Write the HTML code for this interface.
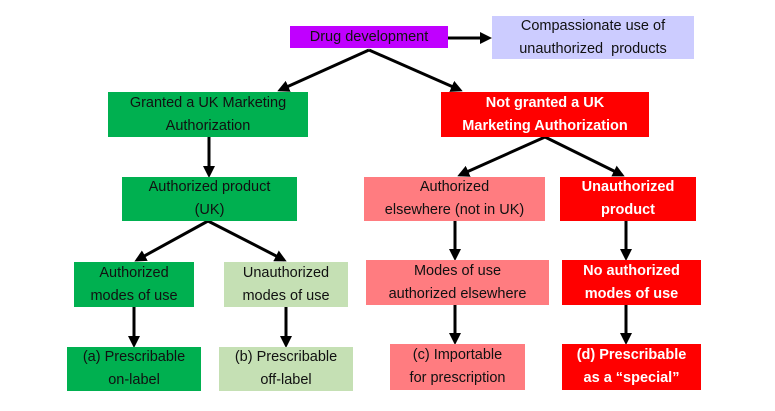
<!DOCTYPE html>
<html><head><style>
body{margin:0;width:775px;height:411px;background:#fff;position:relative;overflow:hidden;font-family:"Liberation Sans",sans-serif}
.b{position:absolute;display:flex;align-items:center;justify-content:center;text-align:center;font-size:14.5px;line-height:23px;color:#111;box-sizing:border-box}
.g{background:#00b050}.lg{background:#c5e0b4}.r{background:#ff0000;color:#fff;font-weight:bold}.p{background:#ff7c80}
svg{position:absolute;left:0;top:0}
</style></head><body>
<svg width="775" height="411"><defs><marker id="a" markerWidth="12" markerHeight="12" refX="9" refY="6" orient="auto" markerUnits="userSpaceOnUse"><path d="M0,0 L12,6 L0,12 z" fill="#000"/></marker></defs>
<g stroke="#000" stroke-width="3" fill="none" marker-end="url(#a)">
<line x1="448" y1="38" x2="489" y2="38"/>
<line x1="369" y1="50" x2="280" y2="90"/>
<line x1="369" y1="50" x2="460" y2="90"/>
<line x1="209" y1="137" x2="209" y2="175"/>
<line x1="545" y1="137" x2="460" y2="175"/>
<line x1="545" y1="137" x2="622" y2="175"/>
<line x1="208" y1="221" x2="137" y2="260"/>
<line x1="208" y1="221" x2="284" y2="260"/>
<line x1="455" y1="221" x2="455" y2="258"/>
<line x1="626" y1="221" x2="626" y2="258"/>
<line x1="134" y1="307" x2="134" y2="345"/>
<line x1="286" y1="307" x2="286" y2="345"/>
<line x1="455" y1="305" x2="455" y2="342"/>
<line x1="626" y1="305" x2="626" y2="342"/>
</g></svg>
<div class="b" style="left:290px;top:26px;width:158px;height:22px;background:#c000ff">Drug development</div>
<div class="b" style="left:492px;top:16px;width:202px;height:43px;background:#ccccff">Compassionate use of<br>unauthorized&nbsp; products</div>
<div class="b g" style="left:108px;top:92px;width:200px;height:45px">Granted a UK Marketing<br>Authorization</div>
<div class="b r" style="left:441px;top:92px;width:208px;height:45px">Not granted a UK<br>Marketing Authorization</div>
<div class="b g" style="left:122px;top:177px;width:175px;height:44px">Authorized product<br>(UK)</div>
<div class="b p" style="left:364px;top:177px;width:181px;height:44px">Authorized<br>elsewhere (not in UK)</div>
<div class="b r" style="left:560px;top:177px;width:136px;height:44px">Unauthorized<br>product</div>
<div class="b g" style="left:74px;top:262px;width:120px;height:45px">Authorized<br>modes of use</div>
<div class="b lg" style="left:224px;top:262px;width:124px;height:45px">Unauthorized<br>modes of use</div>
<div class="b p" style="left:366px;top:260px;width:183px;height:45px">Modes of use<br>authorized elsewhere</div>
<div class="b r" style="left:562px;top:260px;width:139px;height:45px">No authorized<br>modes of use</div>
<div class="b g" style="left:67px;top:347px;width:134px;height:44px">(a) Prescribable<br>on-label</div>
<div class="b lg" style="left:219px;top:347px;width:134px;height:44px">(b) Prescribable<br>off-label</div>
<div class="b p" style="left:390px;top:344px;width:135px;height:46px">(c) Importable<br>for prescription</div>
<div class="b r" style="left:562px;top:344px;width:139px;height:46px">(d) Prescribable<br>as a “special”</div>
</body></html>
